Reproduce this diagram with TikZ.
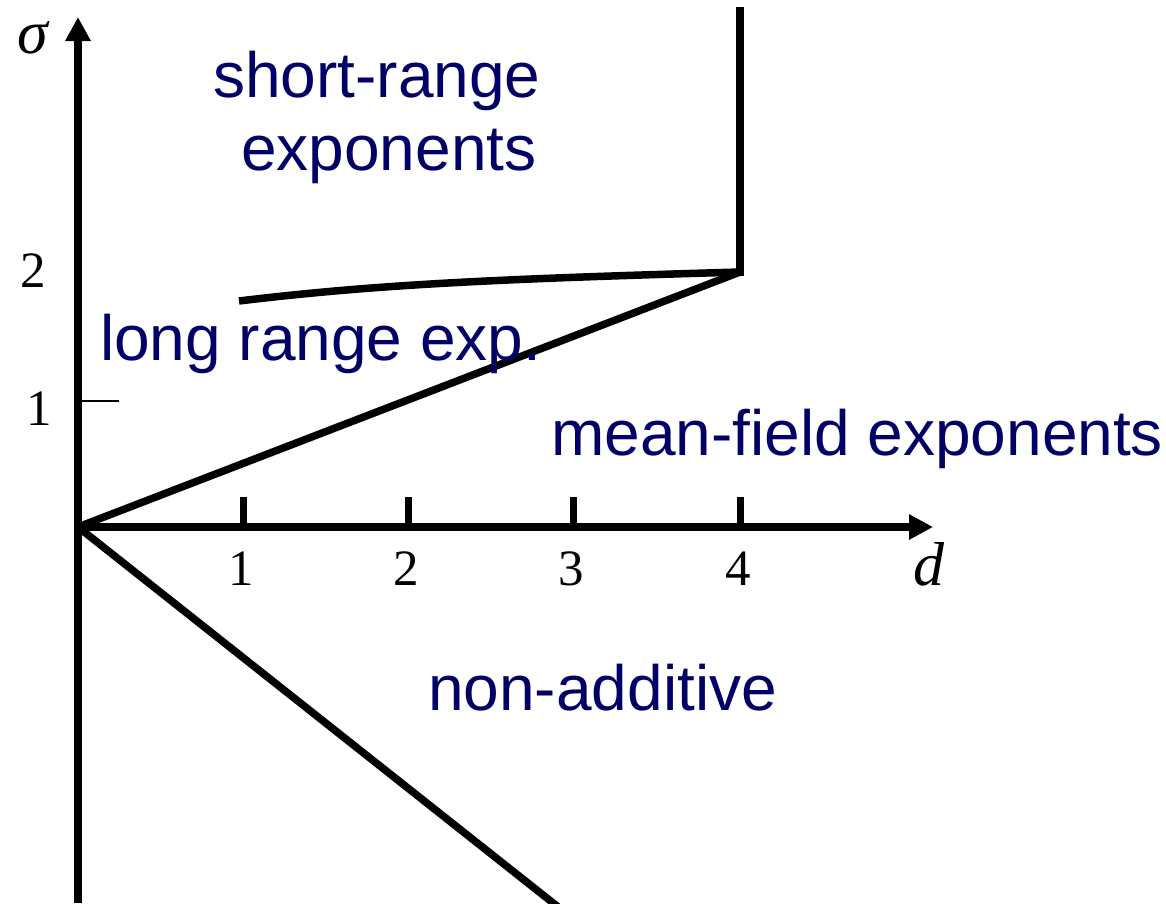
\documentclass[tikz,border=0pt]{standalone}
\usepackage{fontspec}
\setmainfont{Liberation Serif}
\newfontfamily\labelfont{Liberation Sans}
\usetikzlibrary{arrows.meta}
\definecolor{regionblue}{RGB}{0,0,102}
\tikzset{
  thick line/.style={line width=7.5pt, line cap=butt},
  axis line/.style={line width=8pt, -{Triangle[length=24pt,width=24pt]}},
  region/.style={font=\labelfont\fontsize{64}{72}\selectfont, text=regionblue, inner sep=0pt, anchor=base west},
  numlabel/.style={font=\fontsize{51}{56}\selectfont, inner sep=0pt, anchor=base},
  varlabel/.style={font=\itshape\fontsize{62}{66}\selectfont, inner sep=0pt, anchor=base},
}
\begin{document}
\begin{tikzpicture}[x=1pt,y=-1pt]
\clip (0,0) rectangle (1166,903);
\fill[white] (0,0) rectangle (1166,903);
% coordinates
\coordinate (O) at (78,527);
\coordinate (ybot) at (78,903);
\coordinate (ytop) at (78,17);
\coordinate (xtip) at (933,527);
\coordinate (P4) at (740,272);
\coordinate (vtop) at (740,7);
\coordinate (cstart) at (239,301);
\coordinate (dend) at (562,910);
\coordinate (t1a) at (82,401);
\coordinate (t1b) at (119,401);
% axes
\draw[axis line] (ybot) -- (ytop);
\draw[axis line] (O) -- (xtip);
% ticks
\foreach \x/\n in {243/1,408/2,573/3,740/4}{
  \coordinate (tb\n) at (\x,529);
  \coordinate (tt\n) at (\x,497);
  \draw[line width=7pt] (tb\n) -- (tt\n);
  \node[numlabel] (lab\n) at (\x-2,585) {\n};
}
\draw[line width=2.5pt] (t1a) -- (t1b);
% boundary lines
\draw[thick line] (O) -- (P4);
\draw[thick line, line cap=butt] ([yshift=-3.5pt]P4) -- (vtop);
\draw[thick line] (cstart) .. controls (380,284) and (500,279) .. (P4);
\draw[thick line] (O) -- (dend);
% axis labels
\node[varlabel] (sigma) at (33,53) {σ};
\node[varlabel] (dlab) at (929,585) {d};
\node[numlabel] (two) at (33,287) {2};
\node[numlabel] (one) at (39,425) {1};
% region labels
\node[region] (sr1) at (213,97) {short-range};
\node[region] (sr2) at (241,170) {exponents};
\node[region] (lr) at (100,360) {long range exp.};
\node[region] (mf) at (551,455) {mean-field exponents};
\node[region] (na) at (428,710) {non-additive};
\end{tikzpicture}
\end{document}
